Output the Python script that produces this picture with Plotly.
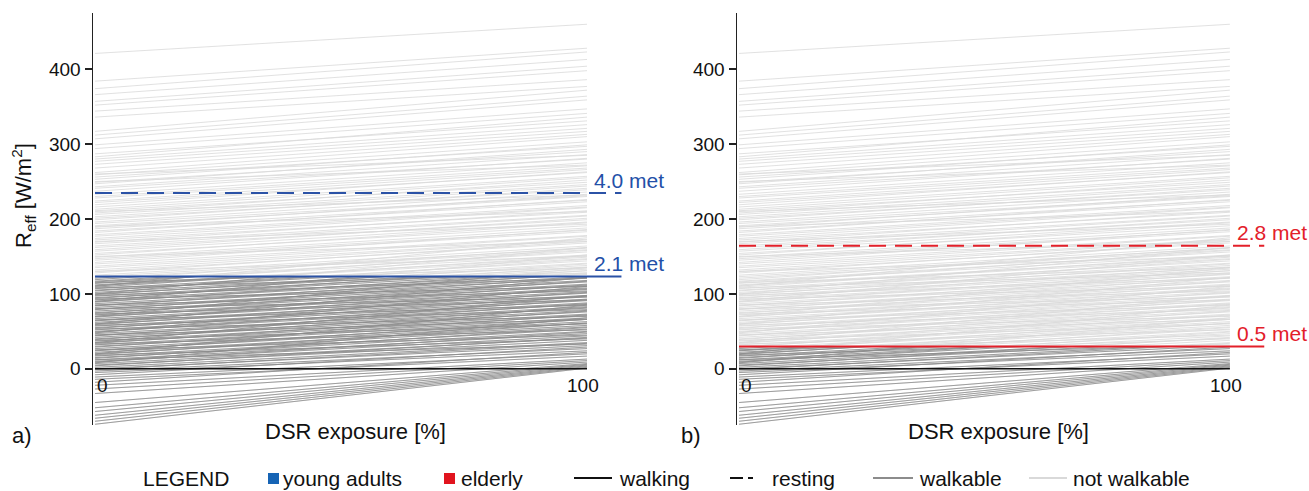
import plotly.graph_objects as go

# ---------------- data ----------------
DSR = [0, 100]  # DSR exposure [%] at which each line is known

# R_eff [W/m2] of each case at 0 % and at 100 % DSR exposure
R_AT_0 = [
    421, 384, 374, 366, 357, 352, 344, 336, 317, 312, 307, 299, 294, 287, 283, 280,
    277, 273, 268, 262, 259, 256, 253, 249, 247, 243, 241, 237, 233, 230, 228, 224,
    222, 219, 216, 213, 211, 208, 206, 203, 201, 199, 196, 194, 191, 189, 187, 184,
    182, 179, 177, 174, 172, 169, 167, 164, 162, 159, 157, 154, 152, 149, 147, 145,
    142, 140, 137, 135, 132, 130, 128, 125, 123, 121, 119, 117, 116, 114, 112, 111,
    109, 107, 105, 104, 102, 100, 99, 97, 95, 94, 92, 90, 89, 87, 85, 84,
    82, 80, 79, 77, 75, 74, 72, 70, 69, 67, 65, 64, 62, 60, 59, 57,
    55, 54, 52, 50, 49, 47, 45, 44, 42, 40, 39, 37, 35, 34, 32, 30,
    29, 27, 25, 24, 22, 20, 19, 17, 15, 14, 12, 10, 9, 7, 5, 4,
    2, 0, -1, -3, -5, -8, -11, -14, -18, -22, -27, -33, -45, -52, -57, -62,
    -66, -70, -74,
    115, 108, 98, 93, 85, 80, 73, 65, 58, 53, 45, 38, 33, 25, 18, 12,
    110, 100, 90, 70, 60, 48, 35, 20, 8, 130, 150, 170, 190, 210, 250, 260,
]
R_AT_100 = [
    460, 428, 423, 413, 404, 398, 386, 377, 372, 364, 359, 347, 341, 331, 336, 326,
    321, 317, 313, 310, 303, 297, 299, 290, 293, 286, 280, 281, 275, 271, 268, 266,
    262, 263, 257, 255, 249, 252, 246, 244, 239, 241, 236, 231, 230, 233, 225, 223,
    226, 218, 216, 215, 209, 211, 205, 204, 199, 201, 196, 191, 195, 188, 185, 183,
    186, 178, 177, 173, 172, 168, 170, 164, 161, 159, 162, 156, 152, 158, 149, 147,
    151, 144, 141, 146, 138, 135, 140, 133, 131, 136, 128, 126, 131, 123, 121, 127,
    118, 116, 122, 113, 111, 117, 108, 106, 112, 103, 101, 107, 98, 96, 102, 93,
    91, 97, 88, 86, 92, 83, 81, 87, 78, 76, 82, 73, 71, 77, 68, 66,
    72, 63, 61, 66, 58, 56, 61, 53, 50, 55, 47, 44, 49, 41, 38, 42,
    35, 31, 34, 27, 24, 29, 20, 17, 22, 13, 11, 9, 7, 6, 5, 4,
    3, 2, 1,
    135, 128, 121, 110, 104, 96, 92, 85, 79, 70, 66, 60, 52, 45, 40, 33,
    175, 162, 152, 135, 122, 110, 98, 85, 68, 150, 170, 193, 210, 232, 272, 285,
]

PANEL_TAGS = ["a)", "b)"]
WALK_LABELS = ["2.1 met", "0.5 met"]      # walking threshold
WALK_R = [123.3, 29.7]
REST_LABELS = ["4.0 met", "2.8 met"]      # resting threshold
REST_R = [234.7, 164.4]
Y_TICKS = [0, 100, 200, 300, 400]
X_TICK_TEXT = ["0", "100"]
X_TITLE = "DSR exposure [%]"
Y_TITLE = "R<sub>eff</sub> [W/m<sup>2</sup>]"
LEGEND_TEXT = ["LEGEND", "young adults", "elderly", "walking", "resting",
               "walkable", "not walkable"]

# ---------------- styles ----------------
FONT = "Liberation Sans, Arial, sans-serif"
GROUP_LINE = ["#2b52a6", "#e3202a"]
GROUP_TEXT = ["#2350a8", "#e3202a"]
GROUP_SWATCH = ["#1664b5", "#e1141e"]
WALKABLE = "#8c8c8c"
NOT_WALKABLE = "#d9d9d9"
THRESH_X_END = 107

W, H = 1309, 491


def px(x):
    return x / W


def py(y):
    return 1 - y / H


Y_DOM = [py(425), py(13)]
Y_RANGE = [-75, 475]
X_DOMS = [[px(93), px(680)], [px(737), px(1305)]]
X_RANGES = [[-0.41, 118.9], [-0.41, 115.3]]

xs, ys = [], []
for a, b in zip(R_AT_0, R_AT_100):
    xs += [DSR[0], DSR[1], None]
    ys += [a, b, None]

fig = go.Figure()

# light (not walkable) lines on main axes
for i in range(2):
    sfx = "" if i == 0 else "2"
    fig.add_trace(go.Scatter(x=xs, y=ys, mode="lines", xaxis="x" + sfx, yaxis="y" + sfx,
                             line=dict(color=NOT_WALKABLE, width=0.8),
                             hoverinfo="skip", showlegend=False))
# dark (walkable) lines on overlay axes clipped at walking threshold
for i in range(2):
    sfx = str(i + 3)
    fig.add_trace(go.Scatter(x=xs, y=ys, mode="lines", xaxis="x" + sfx, yaxis="y" + sfx,
                             line=dict(color=WALKABLE, width=0.8),
                             hoverinfo="skip", showlegend=False))

layout = dict(
    width=W, height=H, autosize=False,
    margin=dict(l=0, r=0, t=0, b=0),
    paper_bgcolor="white", plot_bgcolor="rgba(0,0,0,0)",
    font=dict(family=FONT, color="#111", size=19),
    showlegend=False,
)

span = Y_DOM[1] - Y_DOM[0]
for i in range(2):
    k = "" if i == 0 else "2"
    layout["xaxis" + k] = dict(domain=X_DOMS[i], range=X_RANGES[i], visible=False,
                               anchor="y" + k, fixedrange=True)
    layout["yaxis" + k] = dict(domain=Y_DOM, range=Y_RANGE, anchor="x" + k,
                               showline=True, linecolor="#222", linewidth=1.5,
                               ticks="outside", ticklen=7, tickwidth=1.5, tickcolor="#222",
                               tickvals=Y_TICKS, showgrid=False, zeroline=False,
                               tickfont=dict(size=19, color="#111"), fixedrange=True)
    o = str(i + 3)
    top = Y_DOM[0] + span * (WALK_R[i] - Y_RANGE[0]) / (Y_RANGE[1] - Y_RANGE[0])
    layout["xaxis" + o] = dict(domain=X_DOMS[i], range=X_RANGES[i], visible=False,
                               anchor="y" + o, fixedrange=True)
    layout["yaxis" + o] = dict(domain=[Y_DOM[0], top], range=[Y_RANGE[0], WALK_R[i]],
                               visible=False, anchor="x" + o, fixedrange=True)

shapes = []
annotations = []
for i in range(2):
    k = "" if i == 0 else "2"
    xr, yr = "x" + k, "y" + k
    # zero line
    shapes.append(dict(type="line", xref=xr, yref=yr, x0=DSR[0], x1=DSR[1], y0=0, y1=0,
                       line=dict(color="#111", width=1.5), layer="above"))
    # thresholds
    shapes.append(dict(type="line", xref=xr, yref=yr, x0=DSR[0], x1=THRESH_X_END,
                       y0=WALK_R[i], y1=WALK_R[i],
                       line=dict(color=GROUP_LINE[i], width=2), layer="above"))
    shapes.append(dict(type="line", xref=xr, yref=yr, x0=DSR[0], x1=THRESH_X_END,
                       y0=REST_R[i], y1=REST_R[i],
                       line=dict(color=GROUP_LINE[i], width=2, dash="17px,9px"),
                       layer="above"))
    for lab, val in ((WALK_LABELS[i], WALK_R[i]), (REST_LABELS[i], REST_R[i])):
        annotations.append(dict(xref=xr, yref=yr, x=101, y=val, text=lab, showarrow=False,
                                xanchor="left", yanchor="middle", yshift=13,
                                font=dict(size=21, color=GROUP_TEXT[i])))
    # x tick labels inside
    annotations.append(dict(xref=xr, yref=yr, x=DSR[0], y=0, text=X_TICK_TEXT[0],
                            showarrow=False, xanchor="left", yanchor="middle",
                            xshift=0, yshift=-17, font=dict(size=19)))
    annotations.append(dict(xref=xr, yref=yr, x=DSR[1], y=0, text=X_TICK_TEXT[1],
                            showarrow=False, xanchor="center", yanchor="middle",
                            xshift=-4, yshift=-17, font=dict(size=19)))

# axis titles & panel tags
for cx in (355, 998):
    annotations.append(dict(xref="paper", yref="paper", x=px(cx), y=py(431), text=X_TITLE,
                            showarrow=False, xanchor="center", yanchor="middle",
                            font=dict(size=22)))
for tag, cx in zip(PANEL_TAGS, (22, 691)):
    annotations.append(dict(xref="paper", yref="paper", x=px(cx), y=py(435), text=tag,
                            showarrow=False, xanchor="center", yanchor="middle",
                            font=dict(size=22)))
annotations.append(dict(xref="paper", yref="paper", x=px(23), y=py(196), text=Y_TITLE,
                        showarrow=False, textangle=-90, xanchor="center", yanchor="middle",
                        font=dict(size=22)))

# legend row
LY = 478
leg_x = [143, 283, 461, 619, 772, 919, 1073]
for t, x in zip(LEGEND_TEXT, leg_x):
    annotations.append(dict(xref="paper", yref="paper", x=px(x), y=py(LY), text=t,
                            showarrow=False, xanchor="left", yanchor="middle",
                            xshift=-2, font=dict(size=21, color="#111")))
for x0, c in ((268, GROUP_SWATCH[0]), (444, GROUP_SWATCH[1])):
    shapes.append(dict(type="rect", xref="paper", yref="paper", x0=px(x0), x1=px(x0 + 11),
                       y0=py(484), y1=py(473), fillcolor=c, line=dict(width=0)))
for x0, x1, c in ((574, 612, "#111"), (730, 743, "#111"), (748, 753, "#111"),
                  (873, 913, WALKABLE), (1029, 1067, NOT_WALKABLE)):
    shapes.append(dict(type="line", xref="paper", yref="paper", x0=px(x0), x1=px(x1),
                       y0=py(LY), y1=py(LY), line=dict(color=c, width=2)))

layout["shapes"] = shapes
layout["annotations"] = annotations
fig.update_layout(**layout)
fig.write_html("out.html",
               config={"displayModeBar": False, "staticPlot": True},
               post_script="document.body.style.margin='0';"
                           "document.body.style.overflow='hidden';")
